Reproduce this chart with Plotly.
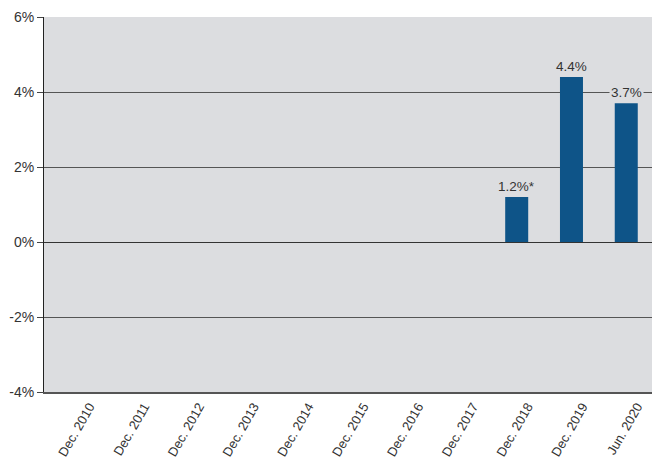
import plotly.graph_objects as go

categories = ["Dec. 2010", "Dec. 2011", "Dec. 2012", "Dec. 2013", "Dec. 2014", "Dec. 2015",
              "Dec. 2016", "Dec. 2017", "Dec. 2018", "Dec. 2019", "Jun. 2020"]
values = [None, None, None, None, None, None, None, None, 1.2, 4.4, 3.7]
labels = ["", "", "", "", "", "", "", "", "1.2%*", "4.4%", "3.7%"]
yticks = [-4, -2, 0, 2, 4, 6]

BG = "#dcdde0"
fig = go.Figure()
fig.add_trace(go.Bar(x=categories, y=values, marker_color="#0e5488", width=0.42,
                     marker_line_width=0))

for c, v, t in zip(categories, values, labels):
    if v is not None and t:
        fig.add_annotation(x=c, y=v, text=t, showarrow=False, yanchor="bottom", yshift=1,
                           font=dict(family="Liberation Sans, Arial", size=13.5, color="#333"),
                           bgcolor=BG, borderpad=1)

fig.update_layout(
    width=652, height=460, margin=dict(l=44, r=0, t=17, b=68),
    plot_bgcolor=BG, paper_bgcolor="white", showlegend=False,
    font=dict(family="Liberation Sans, Arial", size=13, color="#333"),
)
fig.update_yaxes(range=[-4, 6], tickvals=yticks, ticktext=[f"{v}%" for v in yticks],
                 automargin=False,
                 showgrid=True, gridcolor="#555", gridwidth=1,
                 zeroline=True, zerolinecolor="#333", zerolinewidth=1,
                 showline=True, linecolor="#222", linewidth=1,
                 ticks="outside", ticklen=6, tickcolor="#444",
                 tickfont=dict(size=14, color="#333"))
fig.update_xaxes(range=[-0.63, 10.47], automargin=False, showline=True, linecolor="#555",
                 linewidth=2, tickangle=-60, showgrid=False, ticklabelshift=11,
                 tickfont=dict(size=13, color="#333"))
fig.write_html("out.html")
